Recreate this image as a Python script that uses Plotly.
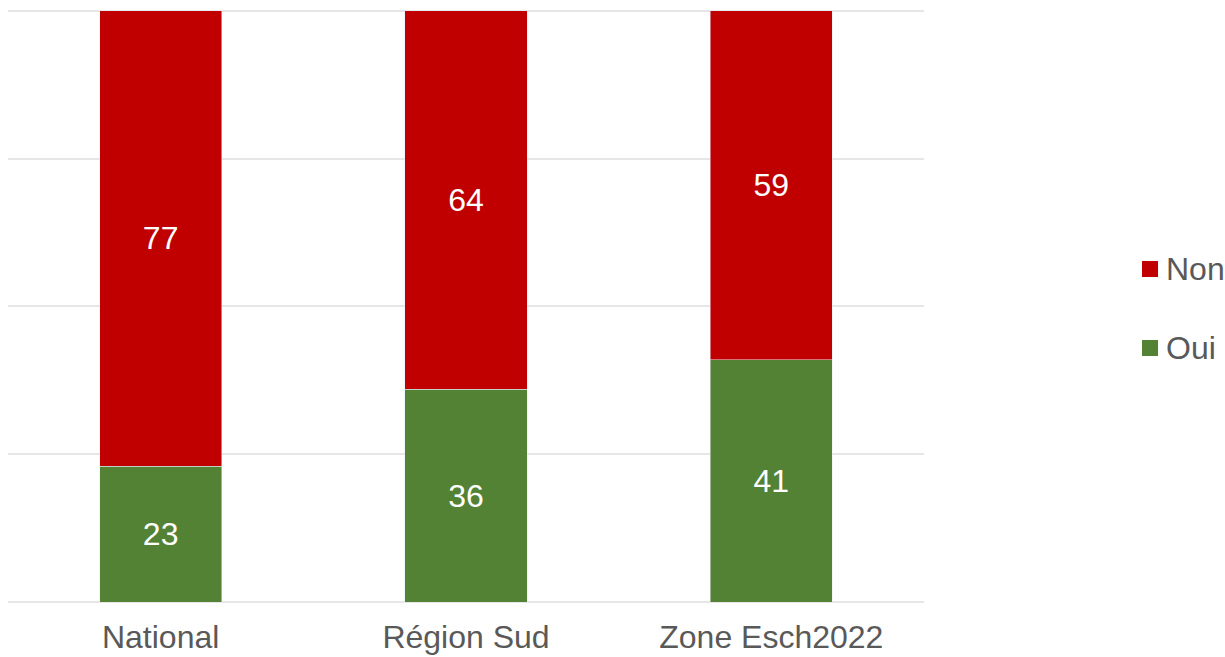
import plotly.graph_objects as go

categories = ["National", "Région Sud", "Zone Esch2022"]
oui = [23, 36, 41]
non = [77, 64, 59]
series_names = ["Non", "Oui"]
series_colors = ["#C00000", "#548235"]

font_family = "Liberation Sans, Arial, sans-serif"
gray = "#595959"

fig = go.Figure()
fig.add_trace(go.Bar(
    x=categories, y=oui, name=series_names[1], marker_color=series_colors[1],
    text=oui, textposition="inside", insidetextanchor="middle", textangle=0,
    textfont=dict(color="white", size=32, family=font_family),
    width=0.4, showlegend=False,
))
fig.add_trace(go.Bar(
    x=categories, y=non, name=series_names[0], marker_color=series_colors[0],
    text=non, textposition="inside", insidetextanchor="middle", textangle=0,
    textfont=dict(color="white", size=32, family=font_family),
    width=0.4, showlegend=False,
))

# manual legend (paper coordinates, right of plot)
legend_y = [0.5616, 0.4283]
sq_x0, sq_x1, half_h = 1.2380, 1.2555, 0.0135
for name, color, yc in zip(series_names, series_colors, legend_y):
    fig.add_shape(type="rect", xref="paper", yref="paper",
                  x0=sq_x0, x1=sq_x1, y0=yc - half_h, y1=yc + half_h,
                  fillcolor=color, line=dict(width=0))
    fig.add_annotation(xref="paper", yref="paper", x=1.2625, y=yc,
                       xanchor="left", yanchor="middle", text=name,
                       showarrow=False,
                       font=dict(size=32, color=gray, family=font_family))

fig.update_layout(
    barmode="stack",
    width=1225, height=657,
    margin=dict(l=8, r=301, t=9, b=55),
    plot_bgcolor="white", paper_bgcolor="white",
    font=dict(family=font_family, color=gray, size=32),
    uniformtext=dict(minsize=32, mode="show"),
    showlegend=False,
    xaxis=dict(showline=False, ticks="", tickfont=dict(size=32, color=gray),
               automargin=False, ticklabelstandoff=13),
    yaxis=dict(range=[0, 100.3], tickvals=[0, 25, 50, 75, 100], showticklabels=False,
               showgrid=True, automargin=False,
               gridcolor="#E6E6E6", gridwidth=1.5, zeroline=True,
               zerolinecolor="#E6E6E6", zerolinewidth=1.5),
)

fig.write_html(
    "out.html",
    config={"displayModeBar": False},
    post_script="document.body.style.margin='0';document.body.style.overflow='hidden';"
                "document.documentElement.style.overflow='hidden';",
)
